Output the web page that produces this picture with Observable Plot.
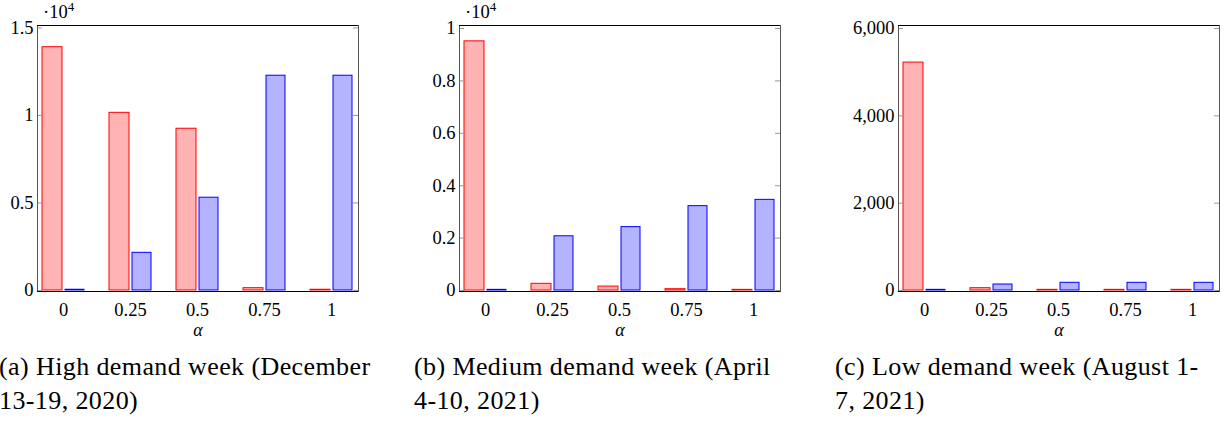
<!DOCTYPE html>
<html><head><meta charset="utf-8">
<script src="https://cdn.jsdelivr.net/npm/d3@7"></script>
<script src="https://cdn.jsdelivr.net/npm/@observablehq/plot@0.6"></script>
<style>
body{margin:0;background:#fff;width:1225px;height:423px;position:relative;overflow:hidden;font-family:"Liberation Serif",serif;}
.panel{position:absolute;top:0;}
.panel svg{font-family:"Liberation Serif",serif !important;font-size:18.5px !important;background:transparent !important;}
.panel svg text{font-family:"Liberation Serif",serif !important;}
.cap{position:absolute;top:350px;font-size:26px;letter-spacing:0.4px;line-height:34px;color:#000;white-space:nowrap;}
.exp{position:absolute;top:3px;font-size:18.5px;line-height:18px;color:#000;white-space:nowrap;}
.exp sup{font-size:13px;vertical-align:0;position:relative;top:-7px;}
</style></head><body>
<div id="pa" class="panel" style="left:0px"></div>
<div id="pb" class="panel" style="left:422px"></div>
<div id="pc" class="panel" style="left:838px"></div>
<div id="ea" class="exp" style="left:43px"></div>
<div id="eb" class="exp" style="left:465px"></div>
<div id="ca" class="cap" style="left:-1px"></div>
<div id="cb" class="cap" style="left:414px"></div>
<div id="cc" class="cap" style="left:835px"></div>
<script>
const alphas = ["0", "0.25", "0.5", "0.75", "1"];
const redA  = [13900, 10150, 9240, 130, 40];
const blueA = [40, 2150, 5300, 12270, 12270];
const redB  = [9510, 255, 150, 50, 25];
const blueB = [25, 2070, 2420, 3220, 3460];
const redC  = [5220, 53, 15, 15, 15];
const blueC = [15, 137, 176, 176, 176];
const yTicksA = [0, 5000, 10000, 15000];
const yTicksB = [0, 2000, 4000, 6000, 8000, 10000];
const yTicksC = [0, 2000, 4000, 6000];
const captionsL1 = ["(a) High demand week (December", "(b) Medium demand week (April", "(c) Low demand week (August 1-"];
const captionsL2 = ["13-19, 2020)", "4-10, 2021)", "7, 2021)"];
const xLabel = "α";
const expBase = "·10";
const expPow = "4";

function panel(red, blue, domain, ticks, fmt, ml) {
  const rows = alphas.map((a, i) => ({a, red: red[i], blue: blue[i]}));
  const W = 321, mr = 6;
  return Plot.plot({
    width: ml + W + mr, height: 346,
    marginLeft: ml, marginRight: mr, marginTop: 25, marginBottom: 55,
    style: {fontFamily: '"Liberation Serif", serif', fontSize: "18px", background: "transparent", color: "#000", overflow: "visible"},
    x: {type: "band", domain: alphas, paddingInner: 0.373, paddingOuter: 0.082},
    y: {domain},
    marks: [
      Plot.barY(rows, {x: "a", y: "red", fill: "#ffb3b3", stroke: "#ff0000", strokeWidth: 1, insetRight: 22}),
      Plot.barY(rows, {x: "a", y: "blue", fill: "#b3b3ff", stroke: "#0000ff", strokeWidth: 1, insetLeft: 23}),
      Plot.tickY(ticks, {y: d => d, stroke: "#999", insetRight: W - 5}),
      Plot.tickY(ticks, {y: d => d, stroke: "#999", insetLeft: W - 5}),
      Plot.frame({stroke: "#555"}),
      Plot.ruleY([domain[0], domain[1]], {stroke: "#000"}),
      Plot.axisY({ticks, tickSize: 0, tickPadding: 4, tickFormat: fmt, label: null}),
      Plot.axisX({tickSize: 0, tickPadding: 11, label: null}),
      Plot.text([xLabel], {frameAnchor: "bottom", dy: 44, fontStyle: "italic", fontSize: 18})
    ]
  });
}
document.getElementById("pa").append(panel(redA, blueA, [-60, 15140], yTicksA, d => String(d / 1e4), 37));
document.getElementById("pb").append(panel(redB, blueB, [-38, 10115], yTicksB, d => String(d / 1e4), 37));
document.getElementById("pc").append(panel(redC, blueC, [-23, 6069], yTicksC, d3.format(","), 60));
["ea", "eb"].forEach(id => {
  const el = document.getElementById(id);
  el.append(expBase);
  const s = document.createElement("sup");
  s.textContent = expPow;
  el.append(s);
});
["ca", "cb", "cc"].forEach((id, i) => {
  const el = document.getElementById(id);
  el.append(captionsL1[i]);
  el.append(document.createElement("br"));
  el.append(captionsL2[i]);
});
</script>
</body></html>
